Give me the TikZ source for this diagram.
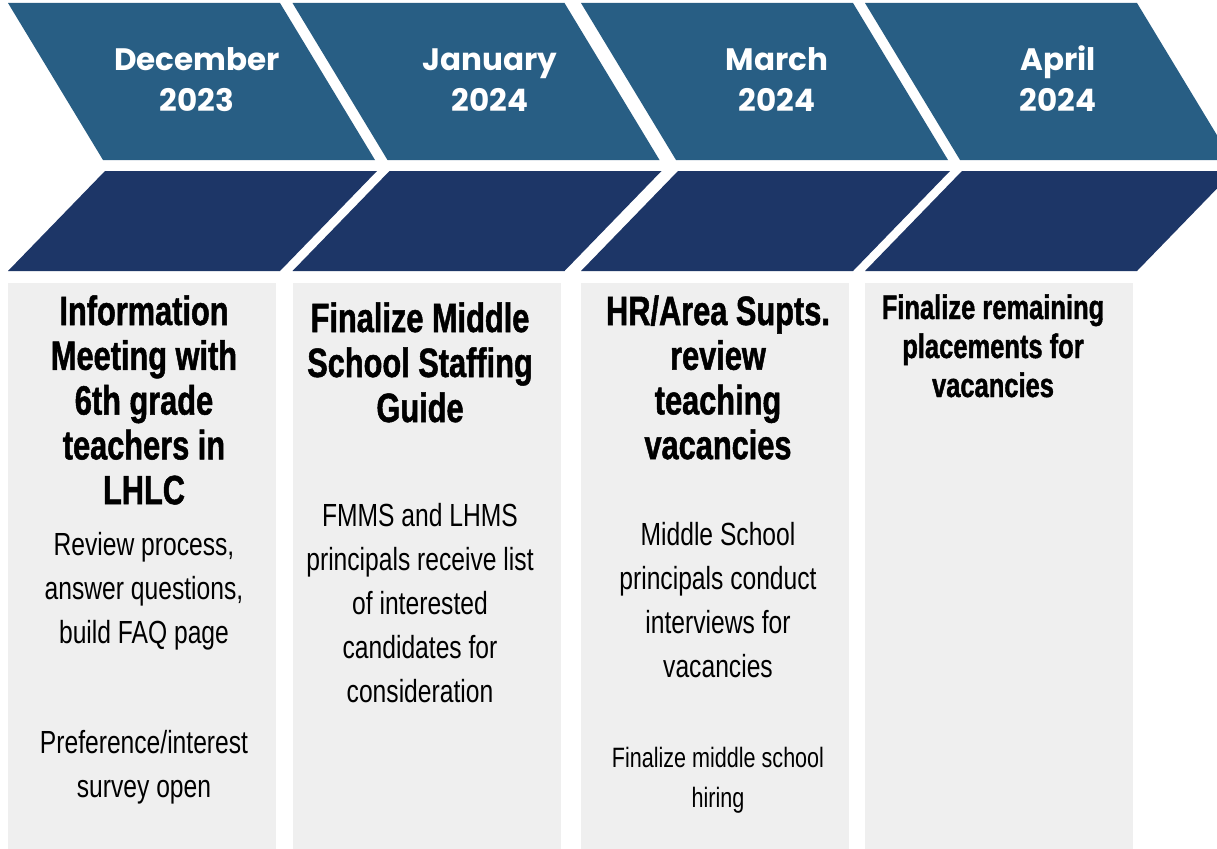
\documentclass[tikz,border=0pt]{standalone}
\usepackage{fontspec}
\newfontfamily\hdrfont{Poppins}
\newfontfamily\ttlfont[FakeStretch=0.75,BoldFeatures={FakeBold=1.2}]{Liberation Sans}
\newfontfamily\bodyfont[FakeStretch=0.77]{Liberation Sans}
\definecolor{topc}{RGB}{40,94,132}
\definecolor{botc}{RGB}{29,54,103}
\definecolor{boxc}{RGB}{239,239,239}
\begin{document}
\begin{tikzpicture}[x=1pt,y=-1pt,
  hdr/.style={text=white,font=\hdrfont\bfseries\fontsize{31}{36}\selectfont,anchor=base,inner sep=0pt},
  ttl/.style={text=black,font=\ttlfont\bfseries\fontsize{41}{48}\selectfont,anchor=base,inner sep=0pt},
  ttlsmall/.style={text=black,font=\ttlfont\bfseries\fontsize{34}{40}\selectfont,anchor=base,inner sep=0pt},
  body/.style={text=black,font=\bodyfont\fontsize{32}{40}\selectfont,anchor=base,inner sep=0pt},
  bodysmall/.style={text=black,font=\bodyfont\fontsize{28}{34}\selectfont,anchor=base,inner sep=0pt},
  topshape/.style={fill=topc},
  botshape/.style={fill=botc},
  panel/.style={fill=boxc}]
\useasboundingbox (0,0) rectangle (1217,848);
\fill[white] (0,0) rectangle (1217,848);
\clip (0,0) rectangle (1217,848);
% chevrons and panels
\foreach \xo in {8,292.5,581,865}{
  \fill[topshape] (\xo,3) -- ++(272,0) -- ++(95,157) -- ++(-272,0) -- cycle;
  \fill[botshape] (\xo+97,171) -- ++(272,0) -- ++(-97,100) -- ++(-272,0) -- cycle;
  \fill[panel] (\xo,283) rectangle ++(268,570);
}
% headers
\node[hdr] (h1a) at (197,71) {December};
\node[hdr] (h1b) at (197,112) {2023};
\node[hdr] (h2a) at (490,71) {January};
\node[hdr] (h2b) at (490,112) {2024};
\node[hdr] (h3a) at (777,71) {March};
\node[hdr] (h3b) at (777,112) {2024};
\node[hdr] (h4a) at (1058,71) {April};
\node[hdr] (h4b) at (1058,112) {2024};
% column 1
\foreach \t [count=\k from 0] in {Information,Meeting with,6th grade,teachers in,LHLC}
  \node[ttl] (t1\k) at (144,{325+44.8*\k}) {\t};
\foreach \t [count=\k from 0] in {{Review process,},{answer questions,},build FAQ page}
  \node[body] (b1\k) at (144,{555+44*\k}) {\t};
\foreach \t [count=\k from 0] in {Preference/interest,survey open}
  \node[body] (c1\k) at (144,{753+44*\k}) {\t};
% column 2
\foreach \t [count=\k from 0] in {Finalize Middle,School Staffing,Guide}
  \node[ttl] (t2\k) at (420,{332+45*\k}) {\t};
\foreach \t [count=\k from 0] in {FMMS and LHMS,principals receive list,of interested,candidates for,consideration}
  \node[body] (b2\k) at (420,{526+44.2*\k}) {\t};
% column 3
\foreach \t [count=\k from 0] in {HR/Area Supts.,review,teaching,vacancies}
  \node[ttl] (t3\k) at (718,{325+44.7*\k}) {\t};
\foreach \t [count=\k from 0] in {Middle School,principals conduct,interviews for,vacancies}
  \node[body] (b3\k) at (718,{545+44*\k}) {\t};
\foreach \t [count=\k from 0] in {Finalize middle school,hiring}
  \node[bodysmall] (c3\k) at (718,{767+40*\k}) {\t};
% column 4
\foreach \t [count=\k from 0] in {Finalize remaining,placements for,vacancies}
  \node[ttlsmall] (t4\k) at (993,{319+39*\k}) {\t};
\end{tikzpicture}
\end{document}
